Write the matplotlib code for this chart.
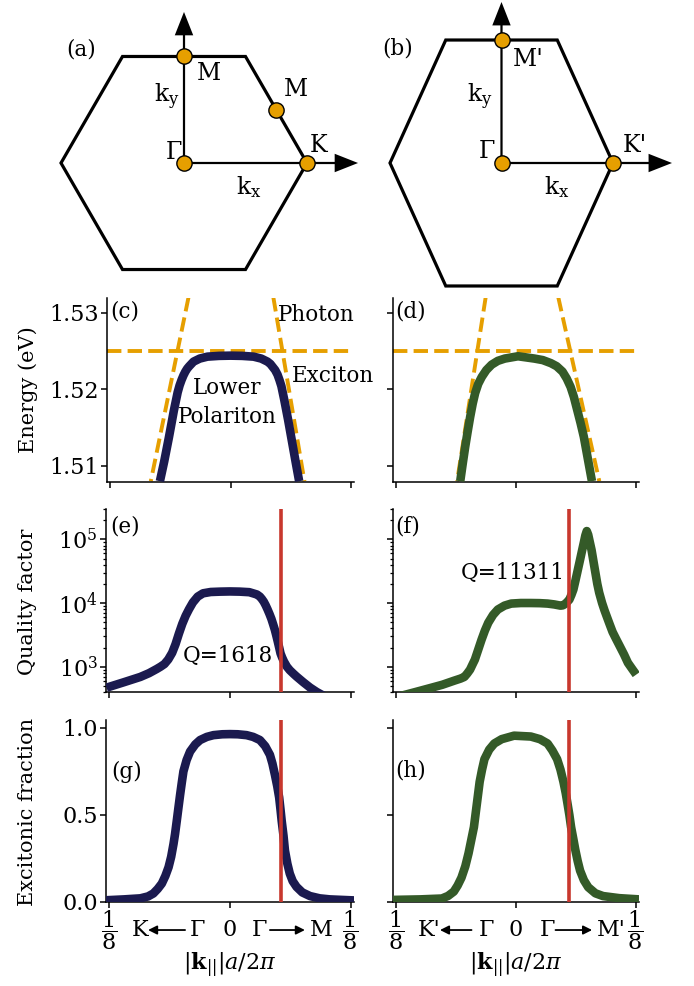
import matplotlib
matplotlib.use("Agg")
import matplotlib.pyplot as plt

W, H, DPI = 694, 986, 100

plt.rcParams["font.family"] = ["DejaVu Serif"]
plt.rcParams["mathtext.fontset"] = "dejavuserif"
plt.rcParams["font.size"] = 15.5

NAVY = "#1b1a4f"
GREEN = "#345a28"
ORANGE = "#E69F00"
RED = "#c8372d"

# ---------------- Brillouin zones ----------------
hex_a_x = [1.0, 0.5, -0.5, -1.0, -0.5, 0.5, 1.0]
hex_a_y = [0.0, 0.866, 0.866, 0.0, -0.866, -0.866, 0.0]
pts_a_x = [0.0, 0.0, 0.75, 1.0]          # Gamma, M, M, K
pts_a_y = [0.0, 0.866, 0.433, 0.0]

hex_b_x = [1.0, 0.5, -0.5, -1.0, -0.5, 0.5, 1.0]
hex_b_y = [0.0, 1.103, 1.103, 0.0, -1.103, -1.103, 0.0]
pts_b_x = [0.0, 0.0, 1.0]                # Gamma, M', K'
pts_b_y = [0.0, 1.103, 0.0]

# ---------------- dispersion (eV) ----------------
k_lp_c = [-0.0735, -0.069, -0.064, -0.059, -0.0565, -0.055, -0.053, -0.051, -0.049, -0.047,
          -0.045, -0.043, -0.0385, -0.032, -0.024, -0.012, 0.0, 0.012, 0.024, 0.032,
          0.0385, 0.0415, 0.044, 0.0465, 0.049, 0.051, 0.053, 0.056, 0.060, 0.064,
          0.068, 0.0715]
E_lp_c = [1.5080, 1.5106, 1.5138, 1.5172, 1.5187, 1.5196, 1.5205, 1.5212, 1.5218, 1.5223,
          1.5227, 1.5230, 1.5236, 1.5240, 1.52425, 1.52435, 1.52438, 1.52435, 1.52425, 1.5240,
          1.5236, 1.5233, 1.5229, 1.5225, 1.5219, 1.5212, 1.5204, 1.5186, 1.5160, 1.5132,
          1.5104, 1.5080]
k_lp_d = [-0.0583, -0.0557, -0.0531, -0.0505, -0.0479, -0.0453, -0.0427, -0.0395, -0.0358,
          -0.031, -0.0255, -0.019, -0.0117, 0.0021, 0.0192, 0.028, 0.0365, 0.0425, 0.0486,
          0.053, 0.0571, 0.0605, 0.064, 0.0675, 0.0709, 0.075, 0.0794]
E_lp_d = [1.5080, 1.5103, 1.5125, 1.5145, 1.5164, 1.5181, 1.5195, 1.5207, 1.5216,
          1.5225, 1.5232, 1.5237, 1.5240, 1.5243, 1.5240, 1.5238, 1.5234, 1.5230, 1.5223,
          1.5214, 1.5203, 1.5190, 1.5173, 1.5156, 1.5138, 1.5110, 1.5080]
E_exciton = 1.525
E_ph = [1.532, 1.508]
k_ph_c_left = [-0.0437, -0.083]
k_ph_c_right = [0.0446, 0.077]
k_ph_d_left = [-0.0317, -0.0616]
k_ph_d_right = [0.0442, 0.0871]

# ---------------- quality factor ----------------
k_q_e = [-0.128, -0.110, -0.093, -0.084, -0.076, -0.072, -0.068, -0.064, -0.060, -0.0565,
         -0.053, -0.0495, -0.046, -0.0425, -0.0385, -0.0335, -0.028, -0.020, -0.010, 0.0,
         0.010, 0.020, 0.028, 0.031, 0.033, 0.035, 0.037, 0.039, 0.041, 0.043,
         0.0448, 0.0465, 0.048, 0.0495, 0.051, 0.0524, 0.054, 0.056, 0.059, 0.062,
         0.066, 0.069, 0.076, 0.083, 0.090, 0.100]
Q_e = [468, 570, 690, 790, 920, 1000, 1100, 1300, 1650, 2250,
       3300, 4700, 6300, 8000, 10200, 12600, 14200, 14900, 15100, 15200,
       15100, 14800, 13600, 12600, 11600, 10500, 9200, 7900, 6700, 5600,
       4600, 3800, 3100, 2500, 2000, 1618, 1400, 1200, 1000, 880,
       770, 700, 570, 470, 400, 330]
k_q_f = [-0.126, -0.105, -0.090, -0.077, -0.065, -0.058, -0.054, -0.051, -0.048, -0.0455,
         -0.043, -0.0395, -0.036, -0.0325, -0.029, -0.024, -0.019, -0.012, -0.005, 0.005,
         0.0155, 0.025, 0.033, 0.040, 0.0465, 0.049, 0.051, 0.053, 0.0558, 0.058,
         0.060, 0.062, 0.064, 0.0655, 0.067, 0.069, 0.071, 0.0725, 0.074, 0.0755,
         0.077, 0.079, 0.081, 0.083, 0.085, 0.087, 0.090, 0.0925, 0.0948, 0.098,
         0.101, 0.1045, 0.1085, 0.113, 0.117, 0.1215, 0.1257]
Q_f = [330, 400, 460, 520, 600, 650, 690, 780, 900, 1080,
       1290, 1850, 2660, 3700, 4900, 6500, 7900, 9100, 9800, 10000,
       10000, 9950, 9800, 9500, 9100, 9200, 9600, 10200, 11311, 13500,
       16300, 22000, 30000, 38000, 48000, 66000, 90000, 115000, 135000, 118000,
       93000, 68000, 45000, 30000, 20000, 14500, 10000, 7700, 6200, 4600,
       3500, 2750, 2100, 1550, 1150, 920, 750]
Q_label_e = 1618
Q_label_f = 11311
k_red_e = 0.0524
k_red_f = 0.0558

# ---------------- excitonic fraction ----------------
k_x_g = [-0.1286, -0.110, -0.093, -0.085, -0.0795, -0.075, -0.0707, -0.067, -0.0637, -0.061,
         -0.0586, -0.057, -0.0552, -0.0535, -0.0517, -0.050, -0.0483, -0.045, -0.0414, -0.036,
         -0.031, -0.024, -0.0172, -0.008, 0.0, 0.008, 0.0172, 0.024, 0.031, 0.0365,
         0.0414, 0.044, 0.0466, 0.049, 0.051, 0.0524, 0.0536, 0.0555, 0.057, 0.0595,
         0.062, 0.065, 0.069, 0.075, 0.083, 0.093, 0.1035, 0.1286]
X_g = [0.010, 0.015, 0.021, 0.032, 0.049, 0.075, 0.106, 0.15, 0.20, 0.26,
       0.333, 0.39, 0.466, 0.54, 0.617, 0.685, 0.75, 0.815, 0.864, 0.905,
       0.93, 0.948, 0.958, 0.963, 0.964, 0.963, 0.958, 0.948, 0.93, 0.895,
       0.845, 0.795, 0.73, 0.665, 0.60, 0.53, 0.466, 0.38, 0.295, 0.22,
       0.163, 0.12, 0.087, 0.055, 0.034, 0.021, 0.015, 0.009]
k_x_h = [-0.1286, -0.100, -0.0775, -0.071, -0.065, -0.061, -0.057, -0.053, -0.0496, -0.0468,
         -0.044, -0.0425, -0.041, -0.0395, -0.038, -0.0355, -0.033, -0.028, -0.0227, -0.015,
         -0.002, 0.0155, 0.025, 0.033, 0.038, 0.043, 0.0465, 0.0496, 0.052, 0.054,
         0.0558, 0.0576, 0.060, 0.062, 0.0645, 0.067, 0.071, 0.0755, 0.083, 0.091,
         0.108, 0.1286]
X_h = [0.012, 0.015, 0.02, 0.035, 0.06, 0.095, 0.14, 0.205, 0.28, 0.355,
       0.43, 0.495, 0.56, 0.625, 0.69, 0.76, 0.82, 0.875, 0.91, 0.935,
       0.955, 0.95, 0.935, 0.91, 0.87, 0.82, 0.76, 0.69, 0.625, 0.56,
       0.50, 0.43, 0.36, 0.30, 0.235, 0.18, 0.125, 0.085, 0.05, 0.034,
       0.022, 0.015]

K_LIM = (-0.1286, 0.1286)
K_TICKS = [-0.125, 0.0, 0.125]

fig = plt.figure(figsize=(W / DPI, H / DPI), dpi=DPI)


def px_axes(x0, y0, x1, y1):
    return fig.add_axes([x0 / W, 1 - y1 / H, (x1 - x0) / W, (y1 - y0) / H])


def ftext(px, py, s, **kw):
    kw.setdefault("ha", "center")
    kw.setdefault("va", "center")
    fig.text(px / W, 1 - py / H, s, **kw)


# ---------------- (a) / (b) hexagons ----------------
def zone(ax, hx, hy, px, py, tip_y, tip_x, hl, hw, sw):
    ax.plot(hx, hy, color="k", lw=2.3, solid_joinstyle="miter", zorder=2)
    for dx, dy in ((0, tip_y), (tip_x, 0)):
        ax.arrow(0, 0, dx, dy, width=sw, head_width=hw, head_length=hl,
                 length_includes_head=True, fc="k", ec="none", zorder=3,
                 clip_on=False)
    ax.plot(px, py, "o", ms=11, mfc=ORANGE, mec="k", mew=1.0, zorder=5,
            clip_on=False)
    ax.axis("off")


ax_a = px_axes(0, 0, 347, 290)
ax_a.set_xlim(-184 / 123, 163 / 123)
ax_a.set_ylim(-127 / 123, 163 / 123)
zone(ax_a, hex_a_x, hex_a_y, pts_a_x, pts_a_y, 1.228, 1.415, 0.19, 0.15, 0.018)
for x, y, s in [(-0.84, 0.92, "(a)"), (0.203, 0.724, "M"), (0.91, 0.60, "M"),
                (1.09, 0.146, "K"), (-0.081, 0.089, "Γ"),
                (-0.138, 0.537, r"$\mathrm{k_y}$"), (0.528, -0.195, r"$\mathrm{k_x}$")]:
    ax_a.text(x, y, s, ha="center", va="center", fontsize=17 if s != "(a)" else 15.5)

ax_b = px_axes(347, 0, 694, 290)
ax_b.set_xlim((347 - 501.5) / 111.5, (694 - 501.5) / 111.5)
ax_b.set_ylim(-127 / 111.5, 163 / 111.5)
zone(ax_b, hex_b_x, hex_b_y, pts_b_x, pts_b_y, 1.444, 1.529, 0.21, 0.165, 0.02)
for x, y, s in [(-0.928, 1.031, "(b)"), (0.238, 0.924, "M'"),
                (-0.193, 0.592, r"$\mathrm{k_y}$"), (-0.13, 0.099, "Γ"),
                (1.197, 0.161, "K'"), (0.498, -0.215, r"$\mathrm{k_x}$")]:
    ax_b.text(x, y, s, ha="center", va="center", fontsize=17 if s != "(b)" else 15.5)


# ---------------- data panels ----------------
def style(ax, left_labels=True):
    for s in ("top", "right"):
        ax.spines[s].set_visible(False)
    for s in ("left", "bottom"):
        ax.spines[s].set_linewidth(1.1)
    ax.tick_params(which="major", direction="out", length=4, width=1.1,
                   labelsize=16, pad=2)
    ax.tick_params(which="minor", direction="out", length=2.5, width=0.9)
    ax.set_xlim(*K_LIM)
    ax.set_xticks(K_TICKS)
    ax.set_xticklabels([])
    if not left_labels:
        ax.tick_params(labelleft=False)


LW = 6.2
CURVE = dict(lw=LW, solid_capstyle="butt", solid_joinstyle="round", zorder=3)

ax_c = px_axes(107, 298, 354, 482)
ax_d = px_axes(393, 298, 639, 482)
for ax, kl, kr, klp, Elp, col in [
        (ax_c, k_ph_c_left, k_ph_c_right, k_lp_c, E_lp_c, NAVY),
        (ax_d, k_ph_d_left, k_ph_d_right, k_lp_d, E_lp_d, GREEN)]:
    ax.axhline(E_exciton, color=ORANGE, ls="--", lw=2.8, zorder=2)
    ax.plot(kl, E_ph, color=ORANGE, ls="--", lw=2.8, zorder=2)
    ax.plot(kr, E_ph, color=ORANGE, ls="--", lw=2.8, zorder=2)
    ax.plot(klp, Elp, color=col, **CURVE)
    ax.set_ylim(1.5079, 1.5319)
    ax.set_yticks([1.51, 1.52, 1.53])
    ax.set_yticklabels(["1.51", "1.52", "1.53"])
style(ax_c)
style(ax_d, left_labels=False)

ax_e = px_axes(106, 509, 354, 692)
ax_f = px_axes(393, 509, 639, 692)
for ax, k, q, kred, col in [(ax_e, k_q_e, Q_e, k_red_e, NAVY),
                            (ax_f, k_q_f, Q_f, k_red_f, GREEN)]:
    ax.set_yscale("log")
    ax.plot(k, q, color=col, **CURVE)
    ax.axvline(kred, color=RED, lw=2.6, zorder=4)
    ax.set_ylim(400, 3e5)
style(ax_e)
style(ax_f, left_labels=False)

ax_g = px_axes(106, 720, 354, 902)
ax_h = px_axes(393, 720, 639, 902)
for ax, k, x, kred, col in [(ax_g, k_x_g, X_g, k_red_e, NAVY),
                            (ax_h, k_x_h, X_h, k_red_f, GREEN)]:
    ax.plot(k, x, color=col, **CURVE)
    ax.axvline(kred, color=RED, lw=2.6, zorder=4)
    ax.set_ylim(0, 1.045)
    ax.set_yticks([0.0, 0.5, 1.0])
    ax.set_yticklabels(["0.0", "0.5", "1.0"])
style(ax_g)
style(ax_h, left_labels=False)


# k-axis labels along the bottom row
def k_axis(ax, near_l, near_r, gl, gr, arr_l, arr_r):
    tr = ax.get_xaxis_transform()
    yv = -0.154
    for kk, s in [(-0.125, r"$\dfrac{1}{8}$"), (0.0, "0"), (0.125, r"$\dfrac{1}{8}$")]:
        ax.text(kk, yv, s, transform=tr, ha="center", va="center", fontsize=16)
    for kk, s in (near_l, near_r, (gl, "Γ"), (gr, "Γ")):
        ax.text(kk, yv, s, transform=tr, ha="center", va="center", fontsize=16)
    for start, tip in (arr_l, arr_r):
        ax.annotate("", xy=(tip, yv), xytext=(start, yv), xycoords=tr, textcoords=tr,
                    arrowprops=dict(arrowstyle="-|>", lw=1.3, color="k",
                                    mutation_scale=13, shrinkA=0, shrinkB=0),
                    annotation_clip=False)
    ax.text(0.0, -0.346, r"$|\mathbf{k}_{||}|a/2\pi$", transform=tr,
            ha="center", va="center", fontsize=16)


k_axis(ax_g, (-0.093, "K"), (0.095, "M"), -0.034, 0.031,
       (-0.0466, -0.085), (0.0414, 0.0777))
k_axis(ax_h, (-0.091, "K'"), (0.100, "M'"), -0.031, 0.033,
       (-0.0465, -0.0795), (0.0413, 0.0796))

# panel letters and annotations
ftext(110, 312, "(c)", ha="left")
ftext(395, 312, "(d)", ha="left")
ftext(110, 526, "(e)", ha="left")
ftext(395, 526, "(f)", ha="left")
ftext(111, 772, "(g)", ha="left")
ftext(395, 770, "(h)", ha="left")

ftext(278, 315, "Photon", ha="left")
ftext(292, 376, "Exciton", ha="left")
ftext(227, 388, "Lower")
ftext(227, 417, "Polariton")

ftext(273, 656, f"Q={Q_label_e}", ha="right")
ftext(565, 573, f"Q={Q_label_f}", ha="right")

ftext(28, 390, "Energy (eV)", rotation=90, fontsize=15)
ftext(28, 602, "Quality factor", rotation=90, fontsize=15)
ftext(28, 812, "Excitonic fraction", rotation=90, fontsize=15)

fig.savefig("out.png", dpi=DPI)
